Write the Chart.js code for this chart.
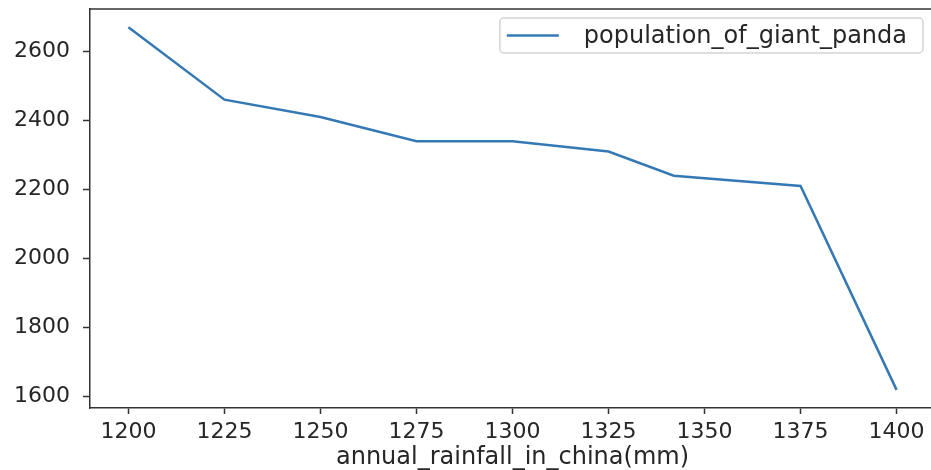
<!DOCTYPE html>
<html>
<head>
<meta charset="utf-8">
<script src="https://cdn.jsdelivr.net/npm/chart.js@4/dist/chart.umd.min.js"></script>
<style>
  html, body { margin: 0; padding: 0; background: #ffffff; overflow: hidden; }
  #wrap { position: relative; width: 945px; height: 470px; }
</style>
</head>
<body>
<div id="wrap"><canvas id="c"></canvas></div>
<script>
// ---- data ----
const rainfall = [1200, 1225, 1250, 1275, 1300, 1325, 1342, 1375, 1400];
const population = [2670, 2460, 2410, 2340, 2340, 2310, 2240, 2210, 1620];
const xTickValues = [1200, 1225, 1250, 1275, 1300, 1325, 1350, 1375, 1400];
const yTickValues = [1600, 1800, 2000, 2200, 2400, 2600];
const seriesName = 'population_of_giant_panda';
const xTitle = 'annual_rainfall_in_china(mm)';

const points = rainfall.map((x, i) => ({ x: x, y: population[i] }));
const lineColor = '#3579b4';
const textColor = '#262626';
const spineColor = '#333333';

const framePlugin = {
  id: 'frame',
  afterDatasetsDraw(chart) {
    const a = chart.chartArea, ctx = chart.ctx;
    ctx.save();
    ctx.strokeStyle = spineColor;
    ctx.lineWidth = 1.5;
    ctx.beginPath();
    ctx.moveTo(a.left, a.top);
    ctx.lineTo(a.right, a.top);
    ctx.stroke();
    ctx.restore();
  }
};

const legendPlugin = {
  id: 'mplLegend',
  afterDraw(chart) {
    const a = chart.chartArea, ctx = chart.ctx;
    ctx.save();
    ctx.font = '24px "DejaVu Sans"';
    const tw = ctx.measureText(seriesName).width;
    const right = a.right - 12;
    const top = a.top + 9;
    const h = 35;
    const w = 7 + 52 + 25 + tw + 16;
    const left = right - w;
    ctx.beginPath();
    ctx.roundRect(left, top, w, h, 4);
    ctx.fillStyle = 'rgba(255,255,255,0.8)';
    ctx.fill();
    ctx.strokeStyle = '#d4d4d4';
    ctx.lineWidth = 1.5;
    ctx.stroke();
    ctx.strokeStyle = lineColor;
    ctx.lineWidth = 2.5;
    ctx.beginPath();
    ctx.moveTo(left + 7, top + h / 2);
    ctx.lineTo(left + 59, top + h / 2);
    ctx.stroke();
    ctx.fillStyle = textColor;
    ctx.textBaseline = 'middle';
    ctx.textAlign = 'left';
    ctx.fillText(seriesName, left + 84, top + h / 2 + 1);
    ctx.restore();
  }
};

new Chart(document.getElementById('c'), {
  type: 'line',
  data: {
    datasets: [{
      label: seriesName,
      data: points,
      borderColor: lineColor,
      backgroundColor: lineColor,
      borderWidth: 2.5,
      pointRadius: 0,
      tension: 0,
      fill: false
    }]
  },
  options: {
    responsive: true,
    maintainAspectRatio: false,
    animation: false,
    devicePixelRatio: 1,
    layout: { padding: { top: 9, right: 10, bottom: 0, left: 0 } },
    plugins: { legend: { display: false }, tooltip: { enabled: false } },
    scales: {
      x: {
        type: 'linear',
        position: 'bottom',
        min: 1190,
        max: 1410,
        afterBuildTicks(scale) { scale.ticks = xTickValues.map(v => ({ value: v })); },
        afterFit(scale) { scale.height = 62; scale.paddingLeft = 0; scale.paddingRight = 0; },
        ticks: {
          font: { family: 'DejaVu Sans', size: 22 },
          color: textColor,
          padding: 5,
          maxRotation: 0,
          autoSkip: false,
          callback: v => String(v)
        },
        grid: { drawOnChartArea: false, drawTicks: true, tickLength: 6, color: spineColor, tickWidth: 1.5 },
        border: { display: true, color: spineColor, width: 1.5 },
        title: {
          display: true,
          text: xTitle,
          font: { family: 'DejaVu Sans', size: 24 },
          color: textColor,
          padding: { top: 0, bottom: -2 }
        }
      },
      y: {
        type: 'linear',
        min: 1567.5,
        max: 2722.5,
        afterBuildTicks(scale) { scale.ticks = yTickValues.map(v => ({ value: v })); },
        afterFit(scale) { scale.width = 90; scale.paddingTop = 0; scale.paddingBottom = 0; },
        ticks: {
          font: { family: 'DejaVu Sans', size: 22 },
          color: textColor,
          padding: 13,
          callback: v => String(v)
        },
        grid: { drawOnChartArea: false, drawTicks: true, tickLength: 7, color: spineColor, tickWidth: 1.5 },
        border: { display: true, color: spineColor, width: 1.5 }
      }
    }
  },
  plugins: [framePlugin, legendPlugin]
});
</script>
</body>
</html>
